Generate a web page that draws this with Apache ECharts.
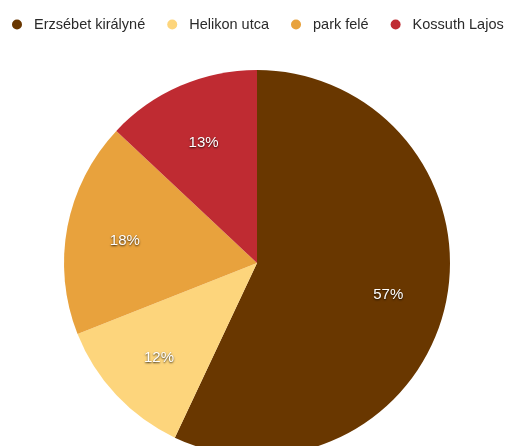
<!DOCTYPE html>
<html><head><meta charset="utf-8">
<script src="https://cdn.jsdelivr.net/npm/echarts@6/dist/echarts.min.js"></script>
<style>html,body{margin:0;padding:0;background:#fff}#c{width:506px;height:446px}</style>
</head><body><div id="c"></div>
<script>
const categories = ["Erzsébet királyné", "Helikon utca", "park felé", "Kossuth Lajos"];
const values = [57, 12, 18, 13];
const colors = ["#693700", "#FDD57C", "#E8A23D", "#BF2B32"];

const data = categories.map((name, i) => ({ name, value: values[i], itemStyle: { color: colors[i] } }));
const chart = echarts.init(document.getElementById('c'), null, { renderer: 'canvas' });
chart.setOption({
  animation: false,
  legend: {
    data: categories,
    left: 7, top: 12, width: 600,
    icon: 'circle', itemWidth: 24, itemHeight: 10, itemGap: 22,
    textStyle: { fontFamily: 'Liberation Sans, Arial, sans-serif', fontSize: 14.5, color: '#2a2a2a' }
  },
  series: [
    {
      type: 'pie', center: [257, 263], radius: [0, 193], startAngle: 90, clockwise: true,
      data, label: { show: false }, labelLine: { show: false }, silent: true,
      itemStyle: { borderWidth: 0 }
    },
    {
      type: 'pie', center: [257, 263], radius: [70, 193], startAngle: 90, clockwise: true,
      data: categories.map((name, i) => ({ name, value: values[i], itemStyle: { color: 'rgba(0,0,0,0)' } })),
      silent: true, legendHoverLink: false,
      label: {
        show: true, position: 'inside', formatter: p => Math.round(p.percent) + '%',
        color: '#fff', fontSize: 15, fontFamily: 'Liberation Sans, Arial, sans-serif',
        textShadowColor: 'rgba(0,0,0,0.8)', textShadowBlur: 2, textShadowOffsetY: 1,
        offset: [0, 3]
      },
      labelLine: { show: false }
    }
  ]
});
</script></body></html>
